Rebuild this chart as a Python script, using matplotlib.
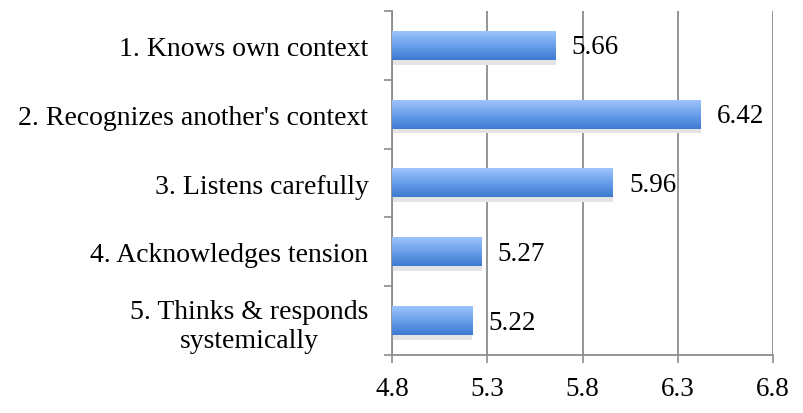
import numpy as np
import matplotlib.pyplot as plt
from matplotlib.colors import LinearSegmentedColormap
from matplotlib.patches import Rectangle

plt.rcParams["font.family"] = ["Liberation Serif", "DejaVu Serif"]

categories = [
    "1. Knows own context",
    "2. Recognizes another's context",
    "3. Listens carefully",
    "4. Acknowledges tension",
    "5. Thinks & responds\nsystemically",
]
scores = [5.66, 6.42, 5.96, 5.27, 5.22]
x_ticks = [4.8, 5.3, 5.8, 6.3, 6.8]
x_labels = ["4.8", "5.3", "5.8", "6.3", "6.8"]


def main():
    fig = plt.figure(figsize=(8.04, 4.14), dpi=100)
    ax = fig.add_axes([0.4876, 0.140, 0.4739, 0.831])

    grid_col = "#8c8c8c"
    # light on top, darker towards the bottom of each bar
    cmap = LinearSegmentedColormap.from_list(
        "bar", ["#9dc4fb", "#6a9fea", "#3c7ad0"])
    grad = np.linspace(0, 1, 64).reshape(-1, 1)

    xmin, xmax = x_ticks[0], x_ticks[-1]
    ypos = np.arange(len(categories))
    h = 0.42
    for y, v in zip(ypos, scores):
        # faint shadow just under the bar
        ax.add_patch(Rectangle((xmin, y - h / 2 + 0.05), v - xmin, h + 0.02,
                               facecolor="#e4e4e4", edgecolor="none", zorder=2))
        ax.imshow(grad, cmap=cmap, aspect="auto", origin="upper",
                  extent=[xmin, v, y + h / 2, y - h / 2], zorder=3,
                  interpolation="bilinear")
        ax.annotate(f"{v:.2f}", (v, y), xytext=(11.5, -1), textcoords="offset points",
                    va="center", ha="left", fontsize=19.5, color="black")

    ax.set_xlim(xmin, xmax)
    ax.set_ylim(len(categories) - 0.5, -0.5)
    ax.set_xticks(x_ticks)
    ax.set_xticklabels(x_labels, fontsize=19.5)
    ax.set_yticks(ypos)
    ax.set_yticklabels(categories, fontsize=20, linespacing=1.25,
                       ha="right", multialignment="center")
    ax.set_yticks(np.arange(-0.5, len(categories), 1), minor=True)
    ax.tick_params(axis="y", which="major", length=0, pad=17)
    ax.tick_params(axis="y", which="minor", length=6, width=1.2, color=grid_col)
    ax.tick_params(axis="x", length=6, width=1.2, color=grid_col, pad=9)

    ax.grid(axis="x", color=grid_col, linewidth=1.3, zorder=1)
    ax.set_axisbelow(True)
    for side in ["top", "right"]:
        ax.spines[side].set_visible(False)
    for side in ["left", "bottom"]:
        ax.spines[side].set_color(grid_col)
        ax.spines[side].set_linewidth(1.3)

    fig.savefig("out.png", dpi=100, facecolor="white")


if __name__ == "__main__":
    main()
